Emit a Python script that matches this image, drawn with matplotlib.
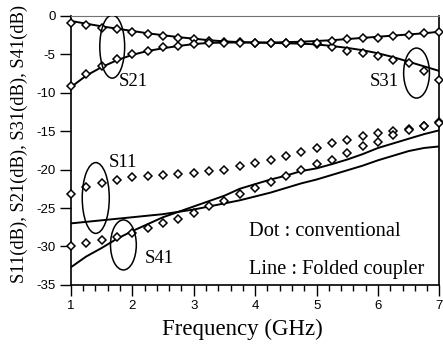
import numpy as np
import matplotlib
matplotlib.use('Agg')
import matplotlib.pyplot as plt
from matplotlib.patches import Ellipse
from matplotlib.ticker import MultipleLocator

plt.rcParams['axes.unicode_minus'] = False

# frequency points (GHz)
freq = [1.0, 1.25, 1.5, 1.75, 2.0, 2.25, 2.5, 2.75, 3.0, 3.25, 3.5, 3.75, 4.0,
        4.25, 4.5, 4.75, 5.0, 5.25, 5.5, 5.75, 6.0, 6.25, 6.5, 6.75, 7.0]

# Dot : conventional
s21_dot = [-0.9, -1.2, -1.6, -1.8, -2.1, -2.4, -2.7, -2.9, -3.05, -3.3, -3.4, -3.45, -3.5,
           -3.5, -3.55, -3.6, -3.7, -4.05, -4.6, -4.8, -5.3, -5.8, -6.2, -7.2, -8.4]
s31_dot = [-9.2, -7.6, -6.5, -5.6, -5.0, -4.6, -4.1, -4.0, -3.7, -3.6, -3.5, -3.5, -3.5,
           -3.5, -3.5, -3.5, -3.5, -3.3, -3.05, -2.95, -2.85, -2.6, -2.5, -2.3, -2.1]
s11_dot = [-23.2, -22.3, -21.7, -21.3, -21.0, -20.8, -20.75, -20.6, -20.4, -20.2, -20.0, -19.5, -19.15,
           -18.8, -18.2, -17.7, -17.2, -16.6, -16.2, -15.6, -15.2, -15.0, -14.7, -14.35, -13.8]
s41_dot = [-30.0, -29.5, -29.2, -28.8, -28.3, -27.6, -27.0, -26.4, -25.7, -24.8, -24.1, -23.2, -22.45,
           -21.65, -20.85, -20.1, -19.3, -18.7, -17.8, -17.0, -16.4, -15.5, -14.9, -14.4, -14.0]

# Line : Folded coupler
s21_line = [-0.7, -1.05, -1.4, -1.7, -2.0, -2.3, -2.55, -2.8, -3.0, -3.2, -3.35, -3.45, -3.5,
            -3.55, -3.6, -3.65, -3.75, -3.95, -4.2, -4.5, -4.9, -5.4, -6.0, -6.6, -7.2]
s31_line = [-9.3, -7.8, -6.7, -5.8, -5.1, -4.6, -4.25, -3.95, -3.7, -3.55, -3.5, -3.5, -3.5,
            -3.5, -3.45, -3.4, -3.3, -3.2, -3.05, -2.9, -2.75, -2.6, -2.45, -2.3, -2.1]
s11_line = [-27.0, -26.8, -26.6, -26.4, -26.2, -26.0, -25.8, -25.5, -25.2, -24.8, -24.4, -24.0, -23.5,
            -23.0, -22.4, -21.8, -21.3, -20.7, -20.1, -19.5, -18.8, -18.2, -17.6, -17.2, -17.0]
s41_line = [-32.7, -31.3, -30.2, -29.0, -28.0, -27.1, -26.2, -25.5, -24.8, -24.1, -23.4, -22.5, -21.9,
            -21.3, -20.8, -20.2, -19.85, -19.3, -18.7, -18.0, -17.2, -16.6, -16.0, -15.4, -14.9]

fig = plt.figure(figsize=(4.43, 3.54), dpi=100)
ax = fig.add_axes([0.160, 0.195, 0.832, 0.761])

for y in (s21_line, s31_line, s11_line, s41_line):
    ax.plot(freq, y, color='black', linewidth=1.4, zorder=2)
for y in (s21_dot, s31_dot, s11_dot, s41_dot):
    ax.plot(freq, y, linestyle='none', marker='D', markersize=3.8,
            markerfacecolor='white', markeredgecolor='black', markeredgewidth=1.1,
            clip_on=False, zorder=3)

# ellipses around the curves
for (cx, cy, w, h) in [(1.673, -4.03, 0.405, 8.2), (6.627, -7.47, 0.42, 6.5),
                       (1.405, -23.7, 0.44, 9.2), (1.855, -29.8, 0.42, 6.5)]:
    ax.add_patch(Ellipse((cx, cy), w, h, fill=False, edgecolor='black', linewidth=1.1, zorder=4))

serif = 'Liberation Serif'
ax.text(2.02, -8.5, 'S21', fontsize=13.5, family=serif, ha='center', va='center')
ax.text(6.11, -8.5, 'S31', fontsize=13.5, family=serif, ha='center', va='center')
ax.text(1.84, -19.15, 'S11', fontsize=13.5, family=serif, ha='center', va='center')
ax.text(2.44, -31.6, 'S41', fontsize=13.5, family=serif, ha='center', va='center')
ax.text(3.9, -28.1, 'Dot : conventional', fontsize=14.7, family=serif, ha='left', va='center')
ax.text(3.9, -33.05, 'Line : Folded coupler', fontsize=14.7, family=serif, ha='left', va='center')

ax.set_xlim(1, 7)
ax.set_ylim(-35, 0)
ax.set_xticks([1, 2, 3, 4, 5, 6, 7])
ax.xaxis.set_minor_locator(MultipleLocator(0.2))
ax.set_yticks(np.arange(-35, 1, 5))
ax.set_yticklabels(['-35', '-30', '-25', '-20', '-15', '-10', '-5', '0'])
ax.tick_params(axis='both', which='major', direction='out', length=8, width=1.0,
               labelsize=9.5, pad=3)
ax.tick_params(axis='x', which='minor', direction='out', length=4.5, width=1.0)
for lab in ax.get_xticklabels() + ax.get_yticklabels():
    lab.set_family('Liberation Sans')

for s in ('left', 'bottom', 'right'):
    ax.spines[s].set_linewidth(1.2)
ax.spines['top'].set_linewidth(0.8)
ax.spines['top'].set_color('0.45')

ax.set_xlabel('Frequency (GHz)', fontsize=16.5, family=serif, labelpad=5)
ax.xaxis.label.set_x(0.465)
ax.set_ylabel('S11(dB), S21(dB), S31(dB), S41(dB)', fontsize=13.3, family=serif, labelpad=6)
ax.yaxis.label.set_y(0.525)

fig.savefig('out.png', dpi=100)
